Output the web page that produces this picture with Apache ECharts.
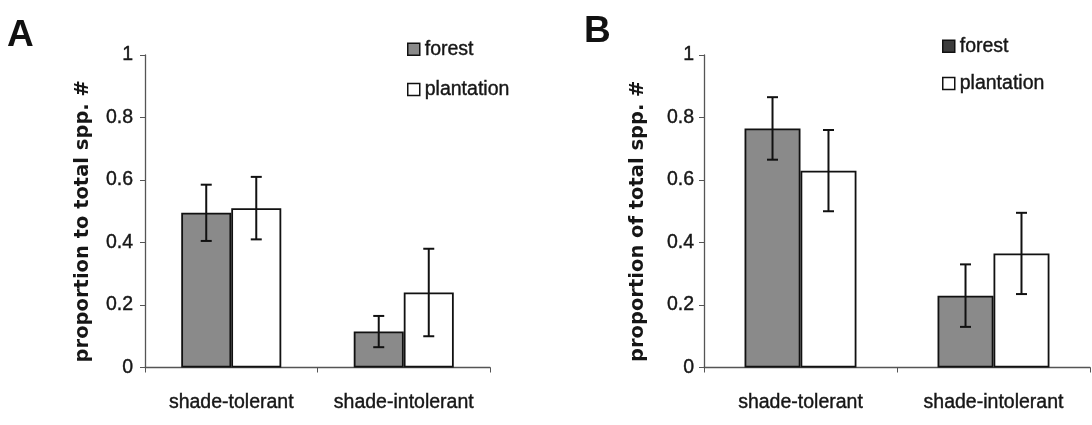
<!DOCTYPE html>
<html>
<head>
<meta charset="utf-8">
<style>
  html, body { margin: 0; padding: 0; background: #fff; }
  #chart { width: 1092px; height: 425px; }
</style>
<script src="https://cdn.jsdelivr.net/npm/echarts@6/dist/echarts.min.js"></script>
</head>
<body>
<div id="chart"></div>
<script>
// Guild categories shared by both panels
const categories = ['shade-tolerant', 'shade-intolerant'];
const seriesNames = ['forest', 'plantation'];

// Panel A: proportion to total species number (mean and error)
const forestA = [0.495, 0.115];
const forestErrA = [0.09, 0.05];
const plantationA = [0.51, 0.24];
const plantationErrA = [0.1, 0.14];

// Panel B: proportion of total species number (mean and error)
const forestB = [0.765, 0.23];
const forestErrB = [0.10, 0.10];
const plantationB = [0.63, 0.365];
const plantationErrB = [0.13, 0.13];

const yTicks = { min: 0, max: 1, interval: 0.2 };
const yTitleA = 'proportion to total spp. #';
const yTitleB = 'proportion of total spp. #';

const TEXT = '#161616';
const AXIS = '#555';
const FOREST_FILL = '#8a8a8a';
const PLANT_FILL = '#ffffff';
const BAR_FRAC = 0.29; // bar width as share of category band

// Regular text set slightly heavier, like the printed figure
const bodyFont = {
  color: TEXT, fontFamily: 'Liberation Sans', fontSize: 19.5,
  textBorderColor: TEXT, textBorderWidth: 0.4
};

const chart = echarts.init(document.getElementById('chart'));

function xAxisFor(gridIndex) {
  return {
    type: 'category', gridIndex, data: categories,
    axisLine: { lineStyle: { color: AXIS, width: 1.3 } },
    axisTick: { show: true, length: 5, lineStyle: { color: AXIS } },
    axisLabel: Object.assign({ interval: 0, margin: 25 }, bodyFont),
    splitLine: { show: false }
  };
}

function yAxisFor(gridIndex, name, gap, labelMargin) {
  return {
    type: 'value', gridIndex, min: yTicks.min, max: yTicks.max, interval: yTicks.interval,
    name, nameLocation: 'middle', nameRotate: 90, nameGap: gap,
    nameTextStyle: {
      color: TEXT, fontFamily: 'DejaVu Sans', fontWeight: 'bold', fontSize: 19.5,
      padding: [0, 20, 0, 0]
    },
    axisLine: { show: true, lineStyle: { color: AXIS, width: 1.3 } },
    axisTick: { show: true, length: 5, lineStyle: { color: AXIS } },
    axisLabel: Object.assign({ margin: labelMargin }, bodyFont),
    splitLine: { show: false }
  };
}

function barSeries(name, values, fill, axisIndex) {
  return {
    type: 'bar', name, data: values,
    xAxisIndex: axisIndex, yAxisIndex: axisIndex,
    barWidth: (BAR_FRAC * 100) + '%', barGap: '0%',
    itemStyle: { color: fill, borderColor: '#111', borderWidth: 1.8 },
    emphasis: { disabled: true },
    z: 2
  };
}

// Error bars centred on each bar: side = -1 for forest, +1 for plantation
function errorSeries(means, errs, side, axisIndex) {
  return {
    type: 'custom',
    xAxisIndex: axisIndex, yAxisIndex: axisIndex,
    data: means.map((m, i) => [i, m, errs[i]]),
    z: 5,
    silent: true,
    renderItem: function (params, api) {
      const idx = api.value(0), mean = api.value(1), err = api.value(2);
      const band = api.size([1, 0])[0];
      const dx = side * band * BAR_FRAC / 2;
      const top = api.coord([idx, mean + err]);
      const bot = api.coord([idx, mean - err]);
      const x = top[0] + dx;
      const cap = 5.5;
      const style = { stroke: '#111', lineWidth: 2 };
      return {
        type: 'group',
        children: [
          { type: 'line', shape: { x1: x, y1: top[1], x2: x, y2: bot[1] }, style },
          { type: 'line', shape: { x1: x - cap, y1: top[1], x2: x + cap, y2: top[1] }, style },
          { type: 'line', shape: { x1: x - cap, y1: bot[1], x2: x + cap, y2: bot[1] }, style }
        ]
      };
    }
  };
}

function legendFor(left, top, gap, forestIcon) {
  return {
    orient: 'vertical', left, top, itemGap: gap,
    itemWidth: 12, itemHeight: 12, icon: 'rect',
    selectedMode: false,
    data: [
      { name: seriesNames[0], itemStyle: { color: forestIcon } },
      { name: seriesNames[1] }
    ],
    textStyle: bodyFont,
    itemStyle: { borderColor: '#111', borderWidth: 1.5 }
  };
}

const titleFont = { fontFamily: 'Liberation Sans', fontWeight: 'bold', fontSize: 37, color: '#111' };

const option = {
  backgroundColor: '#fff',
  animation: false,
  title: [
    { text: 'A', left: 7, top: 17, padding: 0, textStyle: titleFont },
    { text: 'B', left: 584, top: 13, padding: 0, textStyle: titleFont }
  ],
  legend: [legendFor(402, 34, 20, FOREST_FILL), legendFor(937, 31, 17, '#3c3c3c')],
  grid: [
    { left: 145, right: 602, top: 55, bottom: 57.5 },
    { left: 704, right: 2, top: 55, bottom: 57.5 }
  ],
  xAxis: [xAxisFor(0), xAxisFor(1)],
  yAxis: [yAxisFor(0, yTitleA, 52, 12), yAxisFor(1, yTitleB, 56, 10)],
  series: [
    barSeries('forest', forestA, FOREST_FILL, 0),
    barSeries('plantation', plantationA, PLANT_FILL, 0),
    barSeries('forest', forestB, FOREST_FILL, 1),
    barSeries('plantation', plantationB, PLANT_FILL, 1),
    errorSeries(forestA, forestErrA, -1, 0),
    errorSeries(plantationA, plantationErrA, 1, 0),
    errorSeries(forestB, forestErrB, -1, 1),
    errorSeries(plantationB, plantationErrB, 1, 1)
  ]
};

chart.setOption(option);
</script>
</body>
</html>
